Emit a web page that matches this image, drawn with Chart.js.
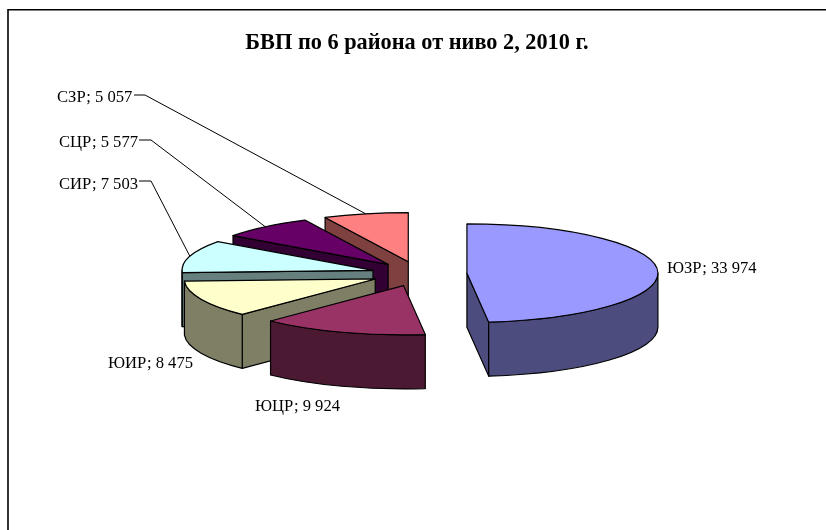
<!DOCTYPE html>
<html>
<head>
<meta charset="utf-8">
<style>html,body{margin:0;padding:0;background:#fff}#w{position:absolute;left:0;top:0;width:826px;height:530px}</style>
<script src="https://cdn.jsdelivr.net/npm/chart.js@4/dist/chart.umd.min.js"></script>
</head>
<body>
<div id="w"><canvas id="c" width="826" height="530"></canvas></div>
<script>
const categories = ['ЮЗР','ЮЦР','ЮИР','СИР','СЦР','СЗР'];
const values = [33974,9924,8475,7503,5577,5057];
const topColors = ['#9999FF','#993366','#FFFFCC','#CCFFFF','#660066','#FF8080'];
const sideColors = ['#4C4C7F','#4C1933','#7F7F66','#667F7F','#330033','#7F4040'];
const chartTitle = 'БВП по 6 района от ниво 2, 2010 г.';

const FONT = '"Liberation Serif"';
const TILT = 0.258, DEPTH = 54, EXPLODE = 48;
const drawOrder = [5,4,3,2,1,0];
// text anchor (left, middle) of each label; `knee` is the leader's start
const labelLayout = [
  {x:667,y:269},
  {x:255,y:406.5},
  {x:108,y:363.5},
  {x:59,y:184.5,from:[139,181],knee:[151,181]},
  {x:59,y:142.5,from:[139,140],knee:[151,140]},
  {x:57,y:98,from:[134,95],knee:[145,95]}
];
const fmt = v => String(v).replace(/\B(?=(\d{3})+$)/g,' ');

function geom(el){
  const p = el.getProps(['x','y','startAngle','endAngle','outerRadius'],true);
  const mid=(p.startAngle+p.endAngle)/2;
  const dx = Math.cos(mid)*EXPLODE, dy = Math.sin(mid)*EXPLODE*TILT;
  return {cx:p.x+dx,cy:p.y+dy,dx,dy,r:p.outerRadius,s:p.startAngle,e:p.endAngle,mid,y0:p.y};
}
function stroke(ctx,fill){
  ctx.closePath();
  if(fill){ctx.fillStyle=fill;ctx.fill();}
  ctx.strokeStyle='#000';ctx.lineWidth=1.2;ctx.lineJoin='round';ctx.stroke();
}
function radialFace(ctx,g,a,fill){
  const px=g.cx+g.r*Math.cos(a), py=g.cy+g.r*TILT*Math.sin(a);
  ctx.beginPath();
  ctx.moveTo(g.cx,g.cy);ctx.lineTo(px,py);ctx.lineTo(px,py+DEPTH);ctx.lineTo(g.cx,g.cy+DEPTH);
  stroke(ctx,fill);
}
function drawSlice(ctx,el,i){
  const g=geom(el), side=sideColors[i];
  if(Math.cos(g.s)<0) radialFace(ctx,g,g.s,side);
  if(Math.cos(g.e)>0) radialFace(ctx,g,g.e,side);
  const t1=Math.max(g.s,0), t2=Math.min(g.e,Math.PI);
  if(t2>t1){
    ctx.beginPath();
    ctx.ellipse(g.cx,g.cy,g.r,g.r*TILT,0,t1,t2);
    ctx.ellipse(g.cx,g.cy+DEPTH,g.r,g.r*TILT,0,t2,t1,true);
    stroke(ctx,side);
  }
  ctx.save();
  ctx.translate(g.dx,g.y0+g.dy);ctx.scale(1,TILT);ctx.translate(0,-g.y0);
  el.draw(ctx);
  ctx.restore();
  ctx.beginPath();
  ctx.moveTo(g.cx,g.cy);
  ctx.ellipse(g.cx,g.cy,g.r,g.r*TILT,0,g.s,g.e);
  stroke(ctx);
}
const pie3d = {
  id:'pie3d',
  afterLayout(chart){ chart.chartArea.left += 4; chart.chartArea.width -= 4; },
  beforeDraw(chart){
    const ctx=chart.ctx;
    ctx.save();
    ctx.strokeStyle='#000';ctx.lineWidth=1.6;
    ctx.beginPath();ctx.moveTo(8,530);ctx.lineTo(8,9.8);ctx.lineTo(826,9.8);ctx.stroke();
    ctx.restore();
  },
  beforeDatasetDraw(chart,args){
    const ctx=chart.ctx;
    ctx.save();
    drawOrder.forEach(i=>drawSlice(ctx,args.meta.data[i],i));
    ctx.restore();
    return false;
  },
  afterDatasetsDraw(chart){
    const ctx=chart.ctx, arcs=chart.getDatasetMeta(0).data;
    ctx.save();
    ctx.font='16.6px '+FONT;ctx.fillStyle='#000';ctx.textBaseline='middle';ctx.textAlign='left';
    categories.forEach((c,i)=>{
      const L=labelLayout[i];
      ctx.fillText(c+'; '+fmt(values[i]),L.x,L.y);
      if(L.knee){
        const g=geom(arcs[i]);
        ctx.beginPath();ctx.moveTo(L.from[0],L.from[1]);ctx.lineTo(L.knee[0],L.knee[1]);
        ctx.lineTo(g.cx+g.r*Math.cos(g.mid),g.cy+g.r*TILT*Math.sin(g.mid));
        ctx.strokeStyle='#000';ctx.lineWidth=1;ctx.stroke();
      }
    });
    ctx.restore();
  }
};
new Chart(document.getElementById('c'),{
  type:'pie',
  data:{labels:categories,datasets:[{data:values,backgroundColor:topColors,borderWidth:0,radius:191}]},
  plugins:[pie3d],
  options:{
    responsive:false,animation:false,events:[],
    layout:{padding:{left:8,right:0,top:0,bottom:39}},
    plugins:{
      legend:{display:false},tooltip:{enabled:false},
      title:{display:true,text:chartTitle,color:'#000',font:{family:FONT,size:22.3,weight:'bold'},padding:{top:30,bottom:0}}
    }
  }
});
</script>
</body>
</html>
